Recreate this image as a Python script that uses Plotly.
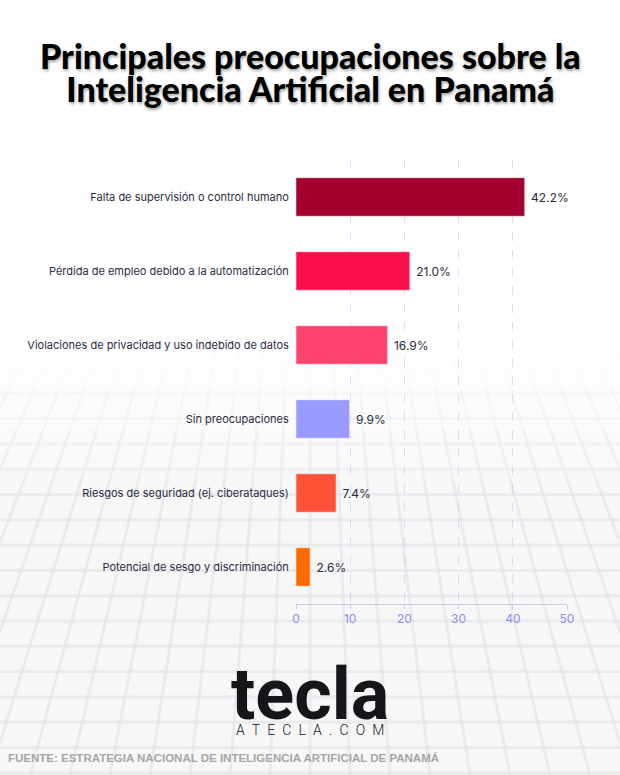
import plotly.graph_objects as go

W, H = 620, 775

categories = [
    "Falta de supervisión o control humano",
    "Pérdida de empleo debido a la automatización",
    "Violaciones de privacidad y uso indebido de datos",
    "Sin preocupaciones",
    "Riesgos de seguridad (ej. ciberataques)",
    "Potencial de sesgo y discriminación",
]
values = [42.2, 21.0, 16.9, 9.9, 7.4, 2.6]
bar_colors = ["#a3002f", "#fb0f4a", "#ff4470", "#9a9bff", "#ff5238", "#ff6a00"]
tick_values = [0, 10, 20, 30, 40, 50]


def px_x(x):
    return x / W


def px_y(y):
    return 1 - y / H


def fade(y):
    # 0 at the top of the floor grid, 1 at the bottom of the page
    return max(0.0, min(1.0, (y - 350) / 160))


# faint perspective floor in the background (decoration only)
bg_shapes = []
for i in range(8):
    y0 = 350 + i * 20
    bg_shapes.append(dict(type="rect", xref="paper", yref="paper", x0=0, x1=1,
                          y0=0, y1=px_y(y0), fillcolor="rgba(246,246,248,0.12)",
                          line=dict(width=0), layer="below"))
y = 368.0
while y < H:
    bg_shapes.append(dict(type="line", xref="paper", yref="paper", x0=0, x1=1,
                          y0=px_y(y), y1=px_y(y),
                          line=dict(color="rgba(228,229,235,{:.2f})".format(0.65 * fade(y)), width=3),
                          layer="below"))
    y += 25.3
vx, vy = 310, -260
for k in range(-14, 15):
    xb = vx + k * 40
    ys = [350, 390, 430, 480, 540, 620, 700, 775]
    for a, b in zip(ys[:-1], ys[1:]):
        xa = vx + (xb - vx) * (a - vy) / (H - vy)
        xe = vx + (xb - vx) * (b - vy) / (H - vy)
        bg_shapes.append(dict(type="line", xref="paper", yref="paper",
                              x0=px_x(xa), x1=px_x(xe), y0=px_y(a), y1=px_y(b),
                              line=dict(color="rgba(228,229,235,{:.2f})".format(0.65 * fade((a + b) / 2)),
                                        width=3),
                              layer="below"))

fig = go.Figure(
    go.Bar(
        x=values,
        y=categories,
        orientation="h",
        marker=dict(color=bar_colors, line=dict(color="rgba(255,255,255,0.5)", width=1)),
        width=0.52,
        text=["\u00a0{:.1f}%".format(v) for v in values],
        textposition="outside",
        textfont=dict(family="Inter", size=12, color="#2b2b3a"),
        cliponaxis=False,
        hoverinfo="skip",
    )
)

title_html = ('<span style="font-size:34px">Principales preocupaciones sobre la</span><br>'
              '<span style="font-size:34px">Inteligencia Artificial en Panamá</span>')
logo_html = ('<span style="font-size:72px;font-weight:700">tecla</span><br>'
             '<span style="font-size:14px;font-weight:300">' + "\u2002".join("ATECLA.COM") + '</span>')

fig.update_layout(
    width=W,
    height=H,
    autosize=False,
    margin=dict(l=0, r=0, t=0, b=0, pad=0),
    paper_bgcolor="white",
    plot_bgcolor="rgba(0,0,0,0)",
    showlegend=False,
    shapes=bg_shapes,
    xaxis=dict(
        domain=[px_x(296), px_x(567)],
        range=[0, 50],
        tickvals=tick_values,
        showgrid=True,
        gridcolor="rgba(200,200,250,0.6)",
        griddash="dash",
        gridwidth=1,
        zeroline=False,
        showline=True,
        linecolor="#c9c9fb",
        ticks="outside",
        ticklen=4,
        tickcolor="#c9c9fb",
        tickfont=dict(family="Inter", size=12, color="#8c8cf5"),
        automargin=False,
        fixedrange=True,
    ),
    yaxis=dict(
        domain=[px_y(604), px_y(160)],
        autorange="reversed",
        showgrid=False,
        zeroline=False,
        ticks="",
        ticksuffix="  ",
        tickfont=dict(family="Inter", size=11, color="#2b2b45"),
        automargin=False,
        fixedrange=True,
    ),
    annotations=[
        dict(text=title_html,
             xref="paper", yref="paper", x=0.5, y=px_y(72), xanchor="center", yanchor="middle",
             showarrow=False, align="center",
             font=dict(family="Lato", size=25.5, color="#000000", weight=900,
                       shadow="1px 2px 3px rgba(0,0,0,0.35)")),
        dict(text=logo_html, xref="paper", yref="paper", x=px_x(310), y=px_y(695),
             xanchor="center", yanchor="middle", showarrow=False, align="center",
             font=dict(family="Roboto", size=12.3, color="#15151a")),
        dict(text="<b>FUENTE: ESTRATEGIA NACIONAL DE INTELIGENCIA ARTIFICIAL DE PANAMÁ</b>",
             xref="paper", yref="paper", x=px_x(6), y=px_y(758), xanchor="left", yanchor="middle",
             showarrow=False,
             font=dict(family="Liberation Sans", size=11.5, color="#a6a6a6")),
    ],
)

fig.write_html("out.html", config={"displayModeBar": False},
               post_script="document.body.style.margin='0';")
